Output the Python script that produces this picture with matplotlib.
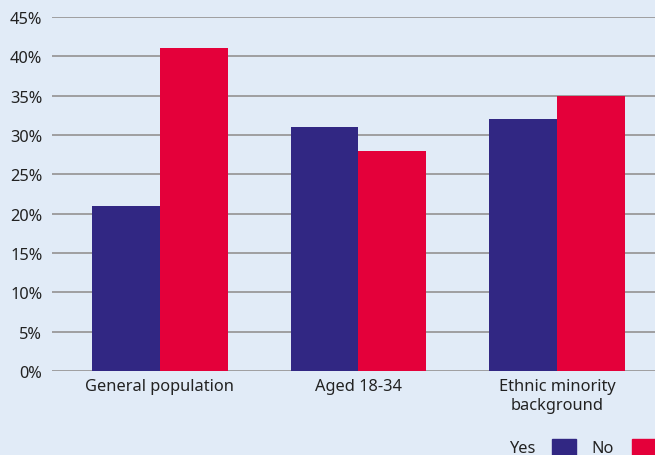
import matplotlib
matplotlib.use("Agg")
import matplotlib.pyplot as plt
import numpy as np
from matplotlib.patches import Rectangle

categories = ["General population", "Aged 18-34", "Ethnic minority\nbackground"]
yes_vals = [21, 31, 32]
no_vals = [41, 28, 35]
yticks = [0, 5, 10, 15, 20, 25, 30, 35, 40, 45]

bg = "#E1EBF7"
c_yes = "#312783"
c_no = "#E4003A"

plt.rcParams['font.family'] = ['Noto Sans', 'DejaVu Sans']
fs = 11.8

fig = plt.figure(figsize=(6.55, 4.56), dpi=100, facecolor=bg)
ax = fig.add_axes([52/655, 1-372/456, 1-52/655, (372-18)/456])
ax.set_facecolor(bg)

x = np.arange(len(categories))
w = 0.342
ax.bar(x - w/2, yes_vals, w, color=c_yes, zorder=3)
ax.bar(x + w/2, no_vals, w, color=c_no, zorder=3)

ax.set_ylim(0, 45)
ax.set_xlim(-0.544, 2.494)
ax.set_yticks(yticks)
ax.set_yticklabels([f"{t}%" for t in yticks], fontsize=fs, color="#222222")
ax.set_xticks(x)
ax.set_xticklabels(categories, fontsize=fs, color="#222222", linespacing=1.25)
ax.tick_params(axis='both', length=0)
ax.tick_params(axis='y', pad=7)
ax.tick_params(axis='x', pad=5)
ax.grid(axis='y', color="#999999", linewidth=1.3, zorder=0)
for s in ax.spines.values():
    s.set_visible(False)

# legend
fig.text(535/655, 1-449/456, "Yes", ha='right', va='center', fontsize=fs, color="#222222")
fig.patches.append(Rectangle((552/655, 0), 24/655, 16/456, transform=fig.transFigure, color=c_yes, figure=fig))
fig.text(614/655, 1-449/456, "No", ha='right', va='center', fontsize=fs, color="#222222")
fig.patches.append(Rectangle((632/655, 0), 24/655, 16/456, transform=fig.transFigure, color=c_no, figure=fig))

fig.savefig("out.png", dpi=100, facecolor=bg)
